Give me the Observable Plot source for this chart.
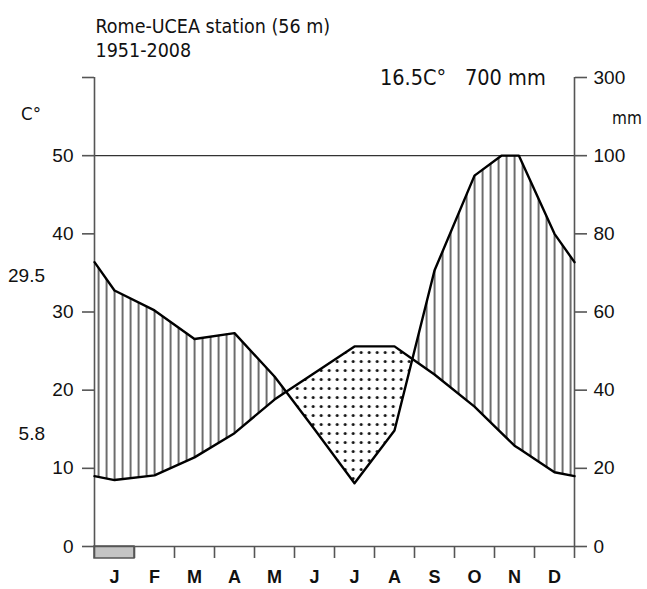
<!DOCTYPE html>
<html><head><meta charset="utf-8">
<script src="https://cdn.jsdelivr.net/npm/d3@7"></script>
<script src="https://cdn.jsdelivr.net/npm/@observablehq/plot@0.6"></script>
<style>
body{margin:0;background:#fff;}
#wrap{position:relative;width:647px;height:589px;overflow:hidden;background:#fff;}
#wrap svg{position:absolute;left:0;top:0;}
.lab{position:absolute;white-space:pre;font-family:"DejaVu Sans Condensed","DejaVu Sans",sans-serif;font-stretch:condensed;color:#111;line-height:1;}
.num{position:absolute;white-space:pre;font-family:"Liberation Sans",Arial,sans-serif;font-size:19px;color:#111;line-height:1;text-align:right;}
</style></head><body><div id="wrap"></div>
<script>
// ---- data ----
const months = ["J","F","M","A","M","J","J","A","S","O","N","D"];
const temperature = [8.5, 9.1, 11.4, 14.5, 18.8, 22.2, 25.6, 25.6, 22.0, 17.9, 12.9, 9.5];   // °C
const precipitation = [65.5, 60.4, 53.1, 54.6, 43.5, 30.0, 16.2, 29.7, 70.6, 94.9, 102.5, 80.0]; // mm
const frostMonths = [1,0,0,0,0,0,0,0,0,0,0,0];
const leftTicks = [0,10,20,30,40,50,60];
const leftTickLabels = ["0","10","20","30","40","50",""];
const rightTickLabels = ["0","20","40","60","80","100","300"];
const titleLines = ["Rome-UCEA station (56 m)", "1951-2008"];
const meanTemp = "16.5C°", totalPrec = "700 mm";
const maxWarm = "29.5", minCold = "5.8";

// ---- derived series (Walter-Lieth: ends = mean of Dec and Jan) ----
const edgeT = (temperature[11] + temperature[0]) / 2;
const edgeP = (precipitation[11] + precipitation[0]) / 2;
let pts = [{x:0, t:edgeT, p:edgeP}];
temperature.forEach((t,i) => pts.push({x:i+0.5, t, p:precipitation[i]}));
pts.push({x:12, t:edgeT, p:edgeP});

function insertCross(arr, f) {
  const out = [arr[0]];
  for (let i = 1; i < arr.length; i++) {
    const a = arr[i-1], b = arr[i], fa = f(a), fb = f(b);
    if ((fa > 0 && fb < 0) || (fa < 0 && fb > 0)) {
      const k = fa / (fa - fb), c = {};
      for (const key in a) c[key] = a[key] + k * (b[key] - a[key]);
      out.push(c);
    }
    out.push(b);
  }
  return out;
}
pts = insertCross(pts, d => d.p - 100);
pts.forEach(d => d.pc = d.p <= 100 ? d.p / 2 : 50 + (Math.min(d.p,100) - 100) / 20);
pts = insertCross(pts, d => d.pc - d.t);

const pxPerUnit = (546 - 77) / 60;
const tickLen = -12 / pxPerUnit;
const boundaries = d3.range(0, 13);
const frost = frostMonths.map((f,i) => ({i, f})).filter(d => d.f);

const plot = Plot.plot({
  width: 647, height: 589,
  marginLeft: 94, marginRight: 73, marginTop: 77, marginBottom: 43,
  style: {fontFamily: '"Liberation Sans", Arial, sans-serif', fontSize: "19px", color: "#111", background: "transparent"},
  x: {domain: [0, 12]},
  y: {domain: [0, 60]},
  marks: [
    Plot.areaY(pts, {x: "x", y1: "t", y2: d => Math.max(d.pc, d.t), fill: "url(#hatch)"}),
    Plot.areaY(pts, {x: "x", y1: d => Math.min(d.pc, d.t), y2: "t", fill: "url(#dots)"}),
    Plot.ruleY([50], {x1: 0, x2: 12, stroke: "#333", strokeWidth: 1.2}),
    Plot.rect(frost, {x1: d => d.i, x2: d => d.i + 1, y1: 0, y2: tickLen, fill: "#c4c4c4", stroke: "#555", strokeWidth: 1.5}),
    Plot.ruleX(boundaries, {y1: 0, y2: tickLen, stroke: "#555", strokeWidth: 1.6}),
    Plot.ruleX([0, 12], {y1: 0, y2: 60, stroke: "#555", strokeWidth: 1.6}),
    Plot.ruleY([0], {x1: 0, x2: 12, stroke: "#555", strokeWidth: 1.6}),
    Plot.axisY({anchor: "left", ticks: leftTicks, tickSize: 12, tickPadding: 9, stroke: "#555", strokeWidth: 1.6,
      tickFormat: d => leftTickLabels[leftTicks.indexOf(d)], label: null}),
    Plot.axisY({anchor: "right", ticks: leftTicks, tickSize: 12, tickPadding: 7, stroke: "#555", strokeWidth: 1.6,
      tickFormat: d => rightTickLabels[leftTicks.indexOf(d)], label: null}),
    Plot.axisX({anchor: "bottom", ticks: months.map((m,i) => i + 0.5), tickSize: 0, tickPadding: 24,
      tickFormat: d => months[Math.floor(d)], label: null, fontWeight: "bold", fontSize: 18}),
    Plot.line(pts, {x: "x", y: "t", stroke: "#000", strokeWidth: 2.4, strokeLinejoin: "round"}),
    Plot.line(pts, {x: "x", y: "pc", stroke: "#000", strokeWidth: 2.4, strokeLinejoin: "round"})
  ]
});

const svgSel = d3.select(plot);
const defs = svgSel.insert("defs", ":first-child");
const ph = defs.append("pattern").attr("id", "hatch").attr("patternUnits", "userSpaceOnUse")
  .attr("width", 8).attr("height", 8).attr("x", 1.6).attr("y", 0);
ph.append("rect").attr("x", 0).attr("y", 0).attr("width", 1.9).attr("height", 8).attr("fill", "#666");
const pd = defs.append("pattern").attr("id", "dots").attr("patternUnits", "userSpaceOnUse")
  .attr("width", 8).attr("height", 9).attr("x", 5.2).attr("y", 6);
pd.append("circle").attr("cx", 4).attr("cy", 4.5).attr("r", 1.5).attr("fill", "#111");

const wrap = document.getElementById("wrap");
wrap.appendChild(plot);

function addLabel(cls, text, left, top, size, extra) {
  const d = document.createElement("div");
  d.className = cls; d.textContent = text;
  d.style.left = left + "px"; d.style.top = top + "px";
  if (size) d.style.fontSize = size + "px";
  if (extra) Object.assign(d.style, extra);
  wrap.appendChild(d);
}
addLabel("lab", titleLines[0], 95.5, 16.5, 19.5);
addLabel("lab", titleLines[1], 95.5, 40.5, 19.5);
addLabel("lab", meanTemp, 380, 67, 21.5);
addLabel("lab", totalPrec, 465, 67, 21.5);
addLabel("lab", "C°", 21, 104.5, 18.5);
addLabel("lab", "mm", 612, 110, 17);
addLabel("num", maxWarm, 0, 266, 19, {width: "45px"});
addLabel("num", minCold, 0, 424, 19, {width: "45px"});
</script></body></html>
